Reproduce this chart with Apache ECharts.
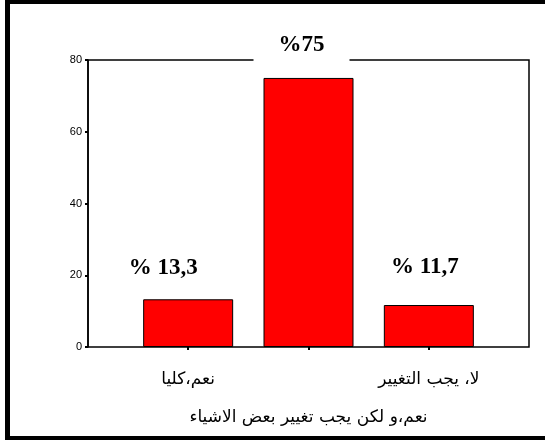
<!DOCTYPE html>
<html>
<head>
<meta charset="utf-8">
<script src="https://cdn.jsdelivr.net/npm/echarts@6/dist/echarts.min.js"></script>
<style>
  html, body { margin: 0; padding: 0; background: #fff; overflow: hidden; }
  #chart { width: 545px; height: 443px; }
</style>
</head>
<body>
<div id="chart"></div>
<script>
// Survey answers (Arabic category names) and their shares in percent
const categories = ['نعم،كليا', 'نعم،و لكن يجب تغيير بعض الاشياء', 'لا، يجب التغيير'];
const percents = [13.3, 75, 11.7];
const yTicks = [0, 20, 40, 60, 80];

// Per-bar label placement tweaks (style only)
const labelDx = [-25, -7, -4];
const labelDist = [20, 15, 26];
const labelPrefix = ['% ', '%', '% '];

const chart = echarts.init(document.getElementById('chart'), null, { renderer: 'canvas' });

const barData = percents.map((v, i) => ({
  value: v,
  label: {
    offset: [labelDx[i], 0],
    distance: labelDist[i],
    backgroundColor: i === 1 ? '#fff' : 'transparent',
    padding: i === 1 ? [6, 25, 6, 25] : 0
  }
}));

const arabicFont = 'DejaVu Sans, Arial, sans-serif';

const option = {
  backgroundColor: '#fff',
  animation: false,
  grid: [
    { left: 88, top: 60, width: 441, height: 287, show: true, borderColor: '#000', borderWidth: 1.5, backgroundColor: 'transparent' },
    { left: 128, top: 60, width: 361, height: 287 }
  ],
  xAxis: [
    { gridIndex: 0, type: 'value', min: 0, max: 1, show: false },
    {
      gridIndex: 1, type: 'category', data: categories,
      axisLine: { show: false },
      axisTick: { show: true, alignWithLabel: true, length: 3, lineStyle: { color: '#000', width: 2 } },
      axisLabel: {
        interval: 0, margin: 24, color: '#000', fontSize: 17,
        fontFamily: arabicFont,
        formatter: (v, i) => i === 1 ? '{low|' + v + '}' : v,
        rich: { low: { padding: [38, 0, 0, 0], fontSize: 17, color: '#000', fontFamily: arabicFont } }
      }
    }
  ],
  yAxis: [
    {
      gridIndex: 0, type: 'value', min: yTicks[0], max: yTicks[yTicks.length - 1], interval: 20,
      splitLine: { show: false },
      axisLine: { show: true, lineStyle: { color: '#000', width: 1.5 } },
      axisTick: { show: true, length: 3, lineStyle: { color: '#000', width: 2 } },
      axisLabel: { color: '#000', fontSize: 11, margin: 6, fontFamily: 'Liberation Sans, Arial, sans-serif' }
    },
    { gridIndex: 1, type: 'value', min: yTicks[0], max: yTicks[yTicks.length - 1], show: false }
  ],
  series: [{
    type: 'bar',
    xAxisIndex: 1, yAxisIndex: 1,
    data: barData,
    barWidth: 90,
    itemStyle: { color: '#ff0000', borderColor: '#000', borderWidth: 1 },
    label: {
      show: true,
      position: 'top',
      color: '#000',
      fontFamily: 'Liberation Serif, Times New Roman, serif',
      fontWeight: 'bold',
      fontSize: 23,
      formatter: p => labelPrefix[p.dataIndex] + String(p.value).replace('.', ',')
    }
  }],
  // Open frame around the figure: top, left and bottom edges
  graphic: [
    { type: 'rect', shape: { x: 5, y: 0, width: 540, height: 4 }, style: { fill: '#000' }, silent: true },
    { type: 'rect', shape: { x: 5, y: 0, width: 5, height: 440 }, style: { fill: '#000' }, silent: true },
    { type: 'rect', shape: { x: 5, y: 436, width: 540, height: 4 }, style: { fill: '#000' }, silent: true }
  ]
};

chart.setOption(option);
</script>
</body>
</html>
